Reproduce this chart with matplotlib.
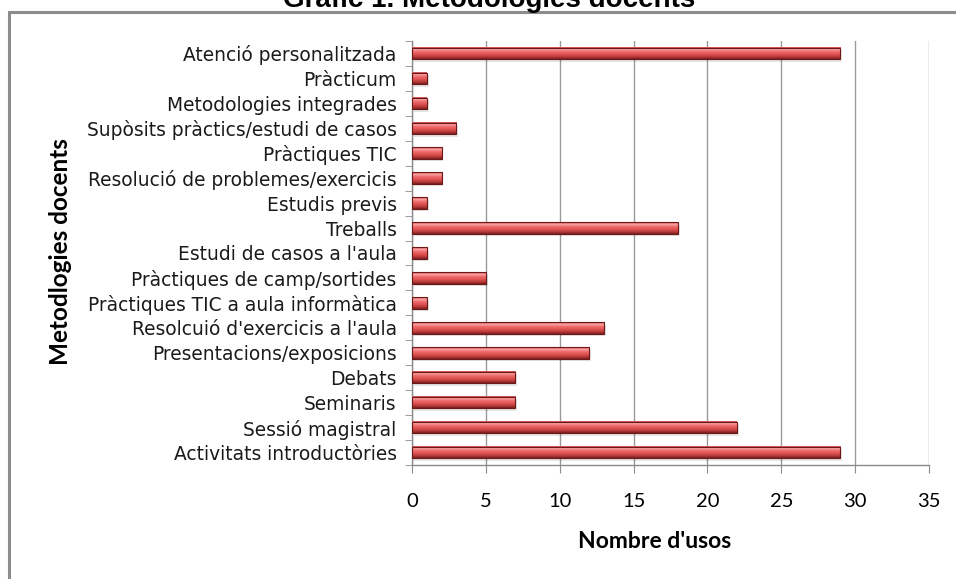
import numpy as np
import matplotlib.pyplot as plt
from matplotlib.patches import Rectangle
from matplotlib.colors import LinearSegmentedColormap

# Dades (de baix a dalt, com a l'eix)
categories = ["Activitats introductòries", "Sessió magistral", "Seminaris", "Debats",
              "Presentacions/exposicions", "Resolcuió d'exercicis a l'aula",
              "Pràctiques TIC a aula informàtica", "Pràctiques de camp/sortides",
              "Estudi de casos a l'aula", "Treballs", "Estudis previs",
              "Resolució de problemes/exercicis", "Pràctiques TIC",
              "Supòsits pràctics/estudi de casos", "Metodologies integrades",
              "Pràcticum", "Atenció personalitzada"]
usos = [29, 22, 7, 7, 12, 13, 1, 5, 1, 18, 1, 2, 2, 3, 1, 1, 29]
xticks = [0, 5, 10, 15, 20, 25, 30, 35]

W, H = 956, 579
fig = plt.figure(figsize=(W / 100, H / 100), dpi=100)
ax = fig.add_axes([412 / W, 1 - 465 / H, (929 - 412) / W, (465 - 41) / H])

# vora del grafic
fig.patches.append(Rectangle((9 / W, -0.1), 1.2, 1 - 12 / H + 0.1, transform=fig.transFigure,
                             fill=False, edgecolor='#8c8c8c', linewidth=2.2))

# barres amb degradat (efecte cilindre)
grad = LinearSegmentedColormap.from_list('barra', [
    (0.0, '#7a1e1e'), (0.18, '#b83a3a'), (0.4, '#e05252'), (0.65, '#f07070'),
    (0.8, '#f8a8a8'), (0.93, '#ec6a6a'), (1.0, '#c04646')])
img = np.linspace(0, 1, 64).reshape(-1, 1)
h = 0.46
for i, v in enumerate(usos):
    # ombra
    ax.add_patch(Rectangle((0.12, i - h / 2 - 0.1), v, h, facecolor='#000000', alpha=0.10,
                           edgecolor='none', zorder=2))
    ax.imshow(img, cmap=grad, aspect='auto', extent=(0, v, i - h / 2, i + h / 2),
              origin='lower', zorder=3, interpolation='bilinear')
    ax.add_patch(Rectangle((0, i - h / 2), v, h, fill=False, edgecolor='#6a1818',
                           linewidth=0.8, zorder=4))

ax.set_xlim(0, 35)
ax.set_ylim(-0.5, len(categories) - 0.5)
ax.set_xticks(xticks)
ax.set_xticklabels([str(t) for t in xticks], fontsize=14.5, family='Lato')
ax.set_yticks(range(len(categories)))
ax.set_yticklabels(categories, fontsize=13.4, family='DejaVu Sans', color='#1a1a1a')
ax.set_yticks(np.arange(-0.5, len(categories), 1), minor=True)
ax.tick_params(axis='y', which='major', length=0, pad=11)
ax.tick_params(axis='y', which='minor', length=5, color='#8c8c8c', direction='out')
ax.tick_params(axis='x', length=6, color='#8c8c8c', direction='out', pad=14)
ax.grid(axis='x', color='#9a9a9a', linewidth=1.0, zorder=0)
ax.set_axisbelow(True)
for s in ['top', 'right']:
    ax.spines[s].set_visible(False)
for s in ['left', 'bottom']:
    ax.spines[s].set_color('#8c8c8c')
    ax.spines[s].set_linewidth(1.0)

fig.text(655 / W, 1 - 541 / H, "Nombre d'usos", fontsize=16.5, fontweight='bold',
         family='Lato', ha='center', va='center')
fig.text(61 / W, 1 - 252 / H, "Metodlogies docents", rotation=90, fontsize=17.5,
         fontweight='bold', family='Lato', ha='center', va='center')

fig.text(489 / W, 1 - 7 / H, "Gràfic 1. Metodologies docents", fontsize=20,
         fontweight='bold', family='Liberation Sans', ha='center', va='baseline')

fig.savefig('out.png', dpi=100)
